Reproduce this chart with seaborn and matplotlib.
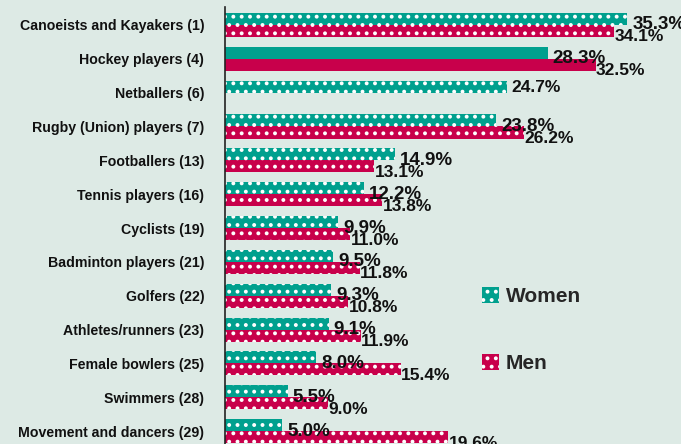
import numpy as np
import pandas as pd
import matplotlib
matplotlib.use("Agg")
import matplotlib.pyplot as plt
import seaborn as sns
from matplotlib.patches import Patch
from matplotlib import font_manager

# Data
sports = ["Canoeists and Kayakers (1)", "Hockey players (4)", "Netballers (6)",
          "Rugby (Union) players (7)", "Footballers (13)", "Tennis players (16)",
          "Cyclists (19)", "Badminton players (21)", "Golfers (22)",
          "Athletes/runners (23)", "Female bowlers (25)", "Swimmers (28)",
          "Movement and dancers (29)"]
women = [35.3, 28.3, 24.7, 23.8, 14.9, 12.2, 9.9, 9.5, 9.3, 9.1, 8.0, 5.5, 5.0]
men = [34.1, 32.5, np.nan, 26.2, 13.1, 13.8, 11.0, 11.8, 10.8, 11.9, 15.4, 9.0, 19.6]

teal = "#00A08E"
crimson = "#C8004B"
bg = "#DDEAE5"

names = {f.name for f in font_manager.fontManager.ttflist}
fam = ["Liberation Sans Narrow", "DejaVu Sans"] if "Liberation Sans Narrow" in names else ["Liberation Sans", "DejaVu Sans"]
narrow = "Liberation Sans Narrow" in names

sns.set_style("white")
plt.rcParams["font.family"] = fam
plt.rcParams["hatch.linewidth"] = 1.6

df = pd.DataFrame({"sport": sports * 2,
                   "pct": women + men,
                   "sex": ["Women"] * len(sports) + ["Men"] * len(sports)})
df = df.dropna()

fig = plt.figure(figsize=(6.81, 4.44), dpi=100)
fig.patch.set_facecolor(bg)
ax = fig.add_axes([225 / 681, 0, 456 / 681, 437 / 444])
ax.set_facecolor(bg)

sns.barplot(data=df, y="sport", x="pct", hue="sex", order=sports,
            hue_order=["Women", "Men"], palette=[teal, crimson], saturation=1,
            width=0.71, orient="h", legend=False, ax=ax)

ax.set_xlim(0, 40)
ax.set_ylim(12.38, -0.53)
for s in ["top", "right", "bottom"]:
    ax.spines[s].set_visible(False)
ax.spines["left"].set_color("#222222")
ax.spines["left"].set_linewidth(1.2)
ax.set_xticks([])
ax.set_xlabel("")
ax.set_ylabel("")
ax.tick_params(axis="y", length=0, pad=15)
for lab in ax.get_yticklabels():
    lab.set_fontsize(12 if narrow else 10.2)
    lab.set_fontweight("bold")
    lab.set_color("#111111")

# hatch pattern and value labels
for i, bars in enumerate(ax.containers):
    for bar in bars:
        w = bar.get_width()
        if np.isnan(w):
            continue
        y = bar.get_y()
        h = bar.get_height()
        idx = int(round(y + h / 2 + (0.18 if i == 0 else -0.18)))
        if sports[idx] == "Hockey players (4)":
            bar.set_hatch(None)
            bar.set_linewidth(0)
        else:
            bar.set_hatch("..")
            bar.set_edgecolor("white")
            bar.set_linewidth(0)
        if i == 0:
            if sports[idx] == "Netballers (6)":
                ax.text(w + 0.45, y + h * 0.6, f"{w:.1f}%", va="center", ha="left",
                        fontsize=12.5, fontweight="bold", color="#111111")
            else:
                ax.text(w + 0.45, y + h, f"{w:.1f}%", va="center", ha="left",
                        fontsize=13.5, fontweight="bold", color="#111111")
        else:
            ax.text(w + 0.05, y + h, f"{w:.1f}%", va="center", ha="left",
                    fontsize=12.5, fontweight="bold", color="#111111")

handles = [Patch(facecolor=teal, edgecolor="white", hatch="..", linewidth=0, label="Women"),
           Patch(facecolor=crimson, edgecolor="white", hatch="..", linewidth=0, label="Men")]
fig.legend(handles=handles, loc="center left", bbox_to_anchor=(482 / 681, 1 - 330 / 444),
           frameon=False, handlelength=0.8, handleheight=0.8, handletextpad=0.35,
           borderpad=0, borderaxespad=0,
           labelspacing=2.3, prop={"family": fam, "weight": "bold", "size": 15})

fig.savefig("out.png", dpi=100, facecolor=bg)
